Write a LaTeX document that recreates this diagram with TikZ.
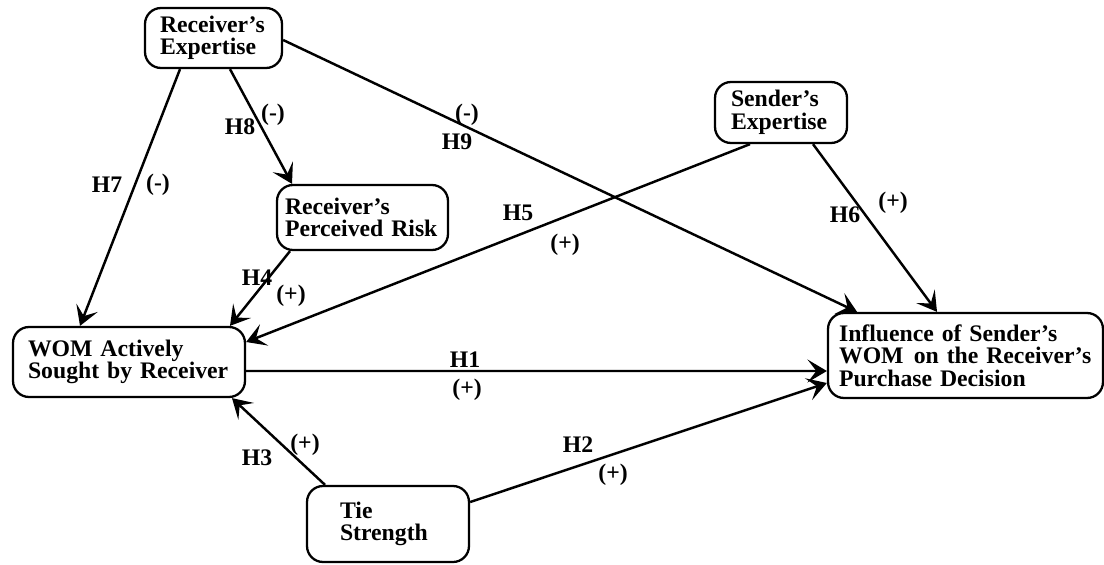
\documentclass[tikz,border=0pt]{standalone}
\usepackage{fontspec}
\setmainfont{Liberation Serif}
\usetikzlibrary{arrows.meta}
\hyphenpenalty=10000
\exhyphenpenalty=10000
\begin{document}
\begin{tikzpicture}[x=0.02cm,y=-0.02cm,
  box/.style={draw, line width=1.3pt, rounded corners=0.32cm, align=left,
    font=\fontsize{13.5}{12.8}\selectfont\bfseries, inner ysep=0pt},
  lbl/.style={font=\fontsize{13.5}{14}\selectfont\bfseries, inner sep=0pt},
  link/.style={line width=1.4pt, -{Stealth[length=11pt,width=13pt,inset=5pt]}}]
\useasboundingbox (0,0) rectangle (1104,564);

\node[box, minimum height=1.2cm, inner xsep=0.3cm, text width=2.14cm] (re) at (213.5,38) {Receiver's\\Expertise};
\node[box, minimum height=1.3cm, inner xsep=0.16cm, text width=3.1cm] (rpr) at (362.5,217.5) {Receiver's\\Perceived Risk};
\node[box, minimum height=1.4cm, inner xsep=0.3cm, text width=4.04cm] (wom) at (129,362) {WOM Actively\\Sought by Receiver};
\node[box, minimum height=1.22cm, inner xsep=0.32cm, text width=2.0cm] (se) at (781,112.5) {Sender's\\Expertise};
\node[box, minimum height=1.7cm, inner xsep=0.22cm, text width=5.06cm] (inf) at (965.5,355.5) {Influence of Sender's\\WOM\hspace{0.1em} on the Receiver's\\Purchase Decision};
\node[box, minimum height=1.52cm, inner xsep=0.66cm, text width=1.92cm] (tie) at (388,524) {Tie\\Strength};

\draw[link] ([xshift=-0.67cm]re.south) -- ([xshift=-0.98cm]wom.north);
\draw[link] ([xshift=0.33cm]re.south) -- ([xshift=-1.41cm]rpr.north);
\draw[link] ([yshift=-0.04cm]re.east) -- ([xshift=-2.17cm]inf.north);
\draw[link] ([xshift=-0.62cm]se.south) -- ([yshift=0.4cm]wom.east);
\draw[link] ([xshift=0.64cm]se.south) -- ([xshift=-0.57cm]inf.north);
\draw[link] ([xshift=-1.45cm]rpr.south) -- ([xshift=2.02cm]wom.north);
\draw[link] ([yshift=-0.18cm]wom.east) -- ([yshift=-0.31cm]inf.west);
\draw[link] ([xshift=-1.26cm]tie.north) -- ([xshift=2.06cm]wom.south);
\draw[link] ([yshift=0.44cm]tie.east) -- ([yshift=-0.55cm]inf.west);

\node[lbl] (h7) at (107,185) {H7};
\node[lbl] (s7) at (158,185) {(-)};
\node[lbl] (h8) at (240,127) {H8};
\node[lbl] (s8) at (273,115) {(-)};
\node[lbl] (s9) at (467,115) {(-)};
\node[lbl] (h9) at (457,142) {H9};
\node[lbl] (h5) at (518,213) {H5};
\node[lbl] (s5) at (565,245) {(+)};
\node[lbl] (h6) at (845,215) {H6};
\node[lbl] (s6) at (893,203) {(+)};
\node[lbl] (h4) at (257,278) {H4};
\node[lbl] (s4) at (291,296) {(+)};
\node[lbl] (h1) at (465,360) {H1};
\node[lbl] (s1) at (467,390) {(+)};
\node[lbl] (h3) at (257,458) {H3};
\node[lbl] (s3) at (305,445) {(+)};
\node[lbl] (h2) at (578,445) {H2};
\node[lbl] (s2) at (613,475) {(+)};
\end{tikzpicture}
\end{document}
